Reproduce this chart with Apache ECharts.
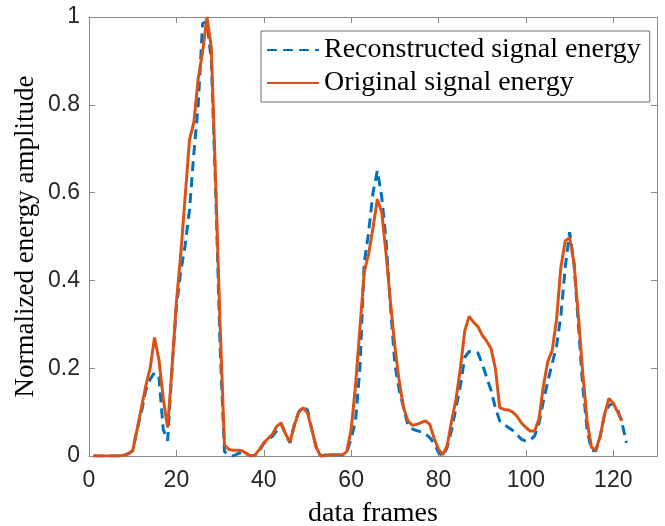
<!DOCTYPE html>
<html>
<head>
<meta charset="utf-8">
<script src="https://cdn.jsdelivr.net/npm/echarts@6/dist/echarts.min.js"></script>
<style>
  html, body { margin: 0; padding: 0; background: #fff; }
  #chart { width: 665px; height: 526px; }
</style>
</head>
<body>
<div id="chart"></div>
<script>
// Normalized energy per data frame (frame numbers start at 1)
const reconstructedEnergy = [
  0, 0, 0, 0, 0, 0, 0, 0.002, 0.005, 0.012,
  0.06, 0.1, 0.15, 0.175, 0.19, 0.18, 0.06, 0.035, 0.2, 0.34,
  0.42, 0.48, 0.56, 0.69, 0.8, 0.985, 0.99, 0.9, 0.6, 0.25,
  0.01, 0.002, 0, 0.005, 0.008, 0.005, 0, 0.002, 0.012, 0.028,
  0.038, 0.045, 0.058, 0.072, 0.05, 0.03, 0.072, 0.1, 0.113, 0.105,
  0.06, 0.02, 0, 0.002, 0.002, 0.002, 0.002, 0.002, 0.008, 0.04,
  0.08, 0.2, 0.44, 0.51, 0.6, 0.65, 0.59, 0.49, 0.34, 0.21,
  0.15, 0.11, 0.07, 0.062, 0.058, 0.055, 0.05, 0.042, 0.028, 0.008,
  0, 0.02, 0.06, 0.11, 0.16, 0.225, 0.238, 0.238, 0.235, 0.21,
  0.18, 0.15, 0.11, 0.08, 0.072, 0.065, 0.058, 0.048, 0.038, 0.034,
  0.036, 0.046, 0.075, 0.125, 0.17, 0.21, 0.25, 0.32, 0.43, 0.51,
  0.44, 0.3, 0.16, 0.06, 0.013, 0.012, 0.045, 0.095, 0.115, 0.12,
  0.105, 0.075, 0.03
];
const originalEnergy = [
  0, 0, 0, 0, 0, 0, 0, 0.002, 0.005, 0.012,
  0.06, 0.11, 0.16, 0.2, 0.27, 0.22, 0.13, 0.065, 0.2, 0.35,
  0.46, 0.59, 0.72, 0.76, 0.86, 0.92, 1.0, 0.93, 0.62, 0.3,
  0.025, 0.015, 0.013, 0.013, 0.012, 0.006, 0, 0.002, 0.015, 0.03,
  0.04, 0.05, 0.068, 0.075, 0.05, 0.032, 0.07, 0.1, 0.11, 0.098,
  0.06, 0.02, 0, 0, 0.003, 0.003, 0.002, 0.002, 0.01, 0.06,
  0.16, 0.29, 0.42, 0.46, 0.52, 0.585, 0.555, 0.46, 0.35, 0.25,
  0.17, 0.11, 0.08, 0.07, 0.072, 0.076, 0.08, 0.072, 0.04, 0.015,
  0.003, 0.025, 0.08, 0.13, 0.2, 0.285, 0.318, 0.305, 0.295, 0.275,
  0.262, 0.245, 0.2, 0.11, 0.106, 0.105, 0.1, 0.09, 0.075, 0.065,
  0.057, 0.057, 0.085, 0.16, 0.215, 0.24, 0.31, 0.43, 0.49, 0.497,
  0.44, 0.32, 0.19, 0.08, 0.02, 0.013, 0.045, 0.095, 0.131, 0.12,
  0.1, 0.08
];
const seriesNames = ['Reconstructed signal energy', 'Original signal energy'];
const xTicks = [0, 20, 40, 60, 80, 100, 120];
const yTicks = [0, 0.2, 0.4, 0.6, 0.8, 1];

const toPairs = arr => arr.map((v, i) => [i + 1, v]);

const serif = '"Liberation Serif", "Times New Roman", serif';
const sans = '"Liberation Sans", Arial, sans-serif';
const frameColor = '#8a8a8a';
const tickTextColor = '#262626';

const xBase = {
  type: 'value', min: 0, max: 130, interval: 20,
  axisLine: { show: true, onZero: false, lineStyle: { color: frameColor, width: 1 } },
  axisTick: { show: true, inside: true, length: 6, lineStyle: { color: frameColor } },
  splitLine: { show: false }
};
const yBase = {
  type: 'value', min: 0, max: 1, interval: 0.2,
  axisLine: { show: true, onZero: false, lineStyle: { color: frameColor, width: 1 } },
  axisTick: { show: true, inside: true, length: 6, lineStyle: { color: frameColor } },
  splitLine: { show: false }
};

const chart = echarts.init(document.getElementById('chart'), null, { renderer: 'canvas' });
chart.setOption({
  animation: false,
  backgroundColor: '#fff',
  // fixed plot rectangle; labels and titles sit outside it
  grid: { left: 89, right: 8, top: 17, bottom: 70, containLabel: false, outerBoundsMode: 'none' },
  legend: {
    data: seriesNames,
    orient: 'vertical',
    left: 261, top: 31,
    backgroundColor: '#fff',
    borderColor: '#6e6e6e', borderWidth: 1,
    padding: [5, 9, 5, 5],
    itemWidth: 52, itemHeight: 14, itemGap: 5,
    // keep only the line sample in each legend entry
    itemStyle: { color: 'rgba(0,0,0,0)', borderWidth: 0, opacity: 0 },
    textStyle: { fontFamily: serif, fontSize: 28, color: '#000', padding: [0, 0, 0, 0] }
  },
  xAxis: [
    Object.assign({}, xBase, {
      position: 'bottom',
      name: 'data frames', nameLocation: 'middle', nameGap: 44,
      nameTextStyle: { fontFamily: serif, fontSize: 28, color: '#000' },
      axisLabel: {
        show: true, margin: 13, fontFamily: sans, fontSize: 23, color: tickTextColor,
        showMaxLabel: false,
        formatter: v => (xTicks.indexOf(v) >= 0 ? String(v) : '')
      }
    }),
    Object.assign({}, xBase, { position: 'top', axisLabel: { show: false } })
  ],
  yAxis: [
    Object.assign({}, yBase, {
      position: 'left',
      name: 'Normalized energy amplitude', nameLocation: 'middle', nameGap: 50, nameRotate: 90,
      nameMoveOverlap: false,
      nameTextStyle: { fontFamily: serif, fontSize: 27, color: '#000' },
      axisLabel: {
        show: true, margin: 9, fontFamily: sans, fontSize: 23, color: tickTextColor,
        formatter: v => {
          const t = yTicks.find(k => Math.abs(k - v) < 1e-9);
          return t === undefined ? '' : String(t);
        }
      }
    }),
    Object.assign({}, yBase, { position: 'right', axisLabel: { show: false } })
  ],
  series: [
    {
      name: seriesNames[0], type: 'line', xAxisIndex: 0, yAxisIndex: 0,
      data: toPairs(reconstructedEnergy),
      symbol: 'none', showSymbol: false,
      lineStyle: { color: '#0072BD', width: 3, type: [10, 6] },
      itemStyle: { color: '#0072BD' }
    },
    {
      name: seriesNames[1], type: 'line', xAxisIndex: 0, yAxisIndex: 0,
      data: toPairs(originalEnergy),
      symbol: 'none', showSymbol: false,
      lineStyle: { color: '#D95319', width: 3, type: 'solid' },
      itemStyle: { color: '#D95319' }
    }
  ]
});
</script>
</body>
</html>
